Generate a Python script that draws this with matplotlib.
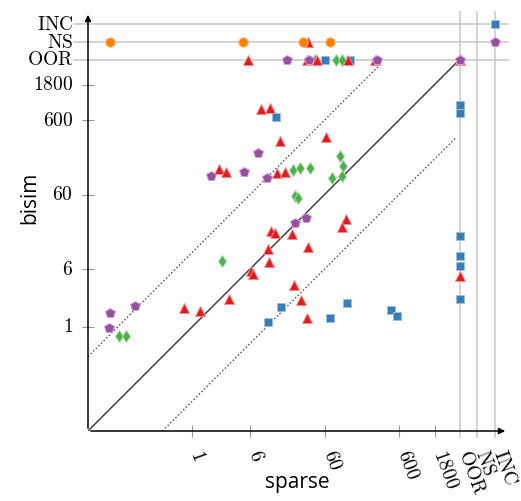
import matplotlib.pyplot as plt
import numpy as np

plt.rcParams['mathtext.fontset'] = 'cm'

# where the special outcomes sit on the log axes
OOR, NS, INC = 3900, 6700, 11600
special = {"OOR": OOR, "NS": NS, "INC": INC}

# data (sparse time, bisim time); strings are special outcomes
red_x = [36, 5.6, 35, 48, 124, 286, "OOR", 8.4, 11.1, 15.2, 63, 2.3, 2.86, 13.8, 17.7,
         11.5, 13, 22, 117, 103, 36, 10.5, 10.8, 6.2, 6.6, 23.4, 3.1, 29, 35, 0.78, 1.28, "OOR"]
red_y = ["NS", "OOR", "OOR", "OOR", "OOR", "OOR", "OOR", 852, 877, 317, 358, 133, 121, 118, 121,
         19.6, 18.4, 17.9, 28.4, 22.2, 12, 11.2, 7.5, 5.7, 5.2, 3.7, 2.4, 2.3, 1.33, 1.82, 1.66, 4.9]

blue_x = ["INC", 61, 132, 13.4, "OOR", "OOR", "OOR", "OOR", "OOR", "OOR",
          15.7, 10.5, 71, 120, 469, 565]
blue_y = ["INC", "OOR", "OOR", 665, 963, 753, 16.8, 9.1, 6.65, 2.4,
          1.87, 1.18, 1.33, 2.12, 1.71, 1.42]

green_x = [44.8, 86, 103, "OOR", 22.7, 28, 38, 97, 106, 76, 102, 24, 26.5, 2.5, 0.105, 0.13]
green_y = ["OOR", "OOR", "OOR", "OOR", 129, 137, 137, 199, 146, 101, 105, 58, 54, 7.8, 0.76, 0.76]

purple_x = [18.8, 37, 304, "OOR", "INC", 1.78, 5.0, 7.7, 10.2, 24, 34, 0.079, 0.17, 0.077]
purple_y = ["OOR", "OOR", "OOR", "OOR", "NS", 105, 119, 219, 101, 25, 29, 1.56, 1.93, 0.98]

orange_x = [0.079, 4.8, 31, 71]
orange_y = ["NS", "NS", "NS", "NS"]

tick_vals = [1, 6, 60, 600, 1800]
cat_labels = ["OOR", "NS", "INC"]


def to_pos(vals):
    return [special[v] if isinstance(v, str) else v for v in vals]


fig = plt.figure(figsize=(5.21, 5.01), dpi=100)
ax = fig.add_axes([88/521, 70/501, 420/521, 419/501])
ax.set_xscale('log')
ax.set_yscale('log')
ax.set_xlim(0.04, 17450)
ax.set_ylim(0.04, 17000)

for s in ax.spines.values():
    s.set_visible(False)

# axes with arrow heads
ax.annotate('', xy=(1, 0), xytext=(0, 0), xycoords='axes fraction',
            arrowprops=dict(arrowstyle='-|>', color='black', lw=1.1, mutation_scale=9))
ax.annotate('', xy=(0, 1), xytext=(0, 0), xycoords='axes fraction',
            arrowprops=dict(arrowstyle='-|>', color='black', lw=1.1, mutation_scale=9))

# grid lines for the special outcomes
for c in cat_labels:
    ax.axhline(special[c], xmin=-14/420, xmax=1, clip_on=False, color='#cccccc', lw=1.2, zorder=0)
    ax.axvline(special[c], ymin=-6/419, ymax=1, clip_on=False, color='#cccccc', lw=1.2, zorder=0)

# ticks
ax.xaxis.set_minor_locator(plt.NullLocator())
ax.yaxis.set_minor_locator(plt.NullLocator())
ax.set_xticks(tick_vals)
ax.set_yticks(tick_vals)
ax.set_xticklabels([])
ax.set_yticklabels([])
ax.tick_params(direction='inout', length=8, width=0.8, color='#999999')

labels = [str(v) for v in tick_vals] + cat_labels
positions = tick_vals + [special[c] for c in cat_labels]
for p, lbl in zip(positions, labels):
    txt = r'$\mathrm{%s}$' % lbl
    ax.annotate(txt, xy=(0, p), xycoords=('axes fraction', 'data'), xytext=(-15, 0),
                textcoords='offset pixels', ha='right', va='center', fontsize=14, annotation_clip=False)
    ax.annotate(txt, xy=(p, 0), xycoords=('data', 'axes fraction'), xytext=(-1, -21),
                textcoords='offset pixels', ha='left', va='baseline', rotation=-70,
                rotation_mode='anchor', fontsize=14, annotation_clip=False)

# reference diagonals
ax.plot([0.04, OOR], [0.04, OOR], color='#333333', lw=1)
ax.plot([0.04, 350], [0.4, 3500], ':', color='#444444', lw=1)
ax.plot([0.4, 3500], [0.04, 350], ':', color='#444444', lw=1)

series = [
    (blue_x, blue_y, 's', 6.2, '#377eb8', '#9bbfdc'),
    (green_x, green_y, 'd', 6.0, '#4daf4a', '#a6d7a4'),
    (red_x, red_y, '^', 7.5, '#e41a1c', '#f28c8d'),
    (purple_x, purple_y, 'p', 7.5, '#984ea3', '#cba6d1'),
    (orange_x, orange_y, 'o', 6.8, '#ff7f00', '#ffbf80'),
]
for xs, ys, m, ms, col, ec in series:
    ax.plot(to_pos(xs), to_pos(ys), linestyle='none', marker=m, markersize=ms,
            color=col, markeredgecolor=ec, markeredgewidth=0.7, clip_on=False, zorder=3)

fig.text(297.5/521, 1 - 488/501, 'sparse', family='Open Sans', fontsize=15,
         ha='center', va='baseline')
fig.text(30/521, 1 - 219/501, 'bisim', family='Open Sans', fontsize=15,
         ha='center', va='baseline', rotation=90)

fig.savefig('out.png', dpi=100)
